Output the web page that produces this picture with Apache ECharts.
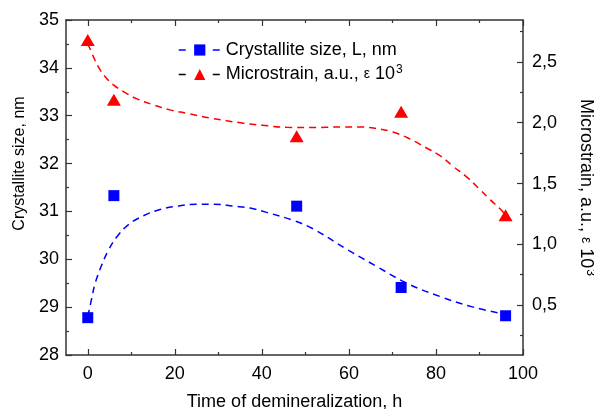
<!DOCTYPE html>
<html>
<head>
<meta charset="utf-8">
<script src="https://cdn.jsdelivr.net/npm/echarts@6/dist/echarts.min.js"></script>
<style>html,body{margin:0;padding:0;background:#fff;}#c{width:594px;height:409px;}</style>
</head>
<body>
<div id="c"></div>
<script>
// ---- data ----
const timeH = [0, 6, 48, 72, 96];
const crystalliteSize = [28.78, 31.33, 31.11, 29.41, 28.82];
const microstrain = [2.68, 2.19, 1.89, 2.09, 1.24];

const sizeFitX = [0, 0.9, 1.7, 3.2, 4.75, 6.7, 9.3, 12.8, 16.6, 20.5, 25.1, 28.9, 33.5, 37.3, 41.1, 47.3, 51.9, 59.5, 66.4, 73.3, 81.0, 88.6, 96];
const sizeFitY = [28.8, 29.18, 29.5, 29.88, 30.19, 30.47, 30.72, 30.91, 31.04, 31.11, 31.15, 31.15, 31.11, 31.07, 30.98, 30.81, 30.63, 30.21, 29.85, 29.50, 29.22, 29.0, 28.85];

const strainFitX = [0, 1.3, 2.4, 4.0, 5.9, 8.2, 11.3, 15.1, 18.9, 22.8, 28, 35.8, 40, 45.7, 51.1, 54.9, 58.8, 62.6, 66.4, 70.3, 74.1, 77.5, 81.0, 84.0, 87.1, 89.8, 92.5, 94.8, 96];
const strainFitY = [2.65, 2.544, 2.461, 2.379, 2.311, 2.256, 2.196, 2.147, 2.106, 2.078, 2.04, 1.996, 1.98, 1.962, 1.960, 1.963, 1.966, 1.966, 1.952, 1.922, 1.865, 1.799, 1.728, 1.640, 1.553, 1.462, 1.366, 1.290, 1.24];

const xMajorTicks = [0, 20, 40, 60, 80, 100];
const xMinorTicks = [10, 30, 50, 70, 90];
const rightMajorTicks = [0.5, 1.0, 1.5, 2.0, 2.5];
const rightMinorTicks = [0.25, 0.75, 1.25, 1.75, 2.25, 2.75];

const nameSize = 'Crystallite size, L, nm';
const nameStrain = 'Microstrain, a.u., \u03b5 10^3';
const leftTitle = 'Crystallite size, nm';
const bottomTitle = 'Time of demineralization, h';

// ---- chart ----
const FONT = '"Liberation Sans", Arial, sans-serif';
const AX = '#333';
const pairs = (xs, ys) => xs.map((x, i) => [x, ys[i]]);
const richText = {
  t: {fontSize: 18, fontFamily: FONT, color: '#000'},
  e: {fontSize: 14, fontFamily: FONT, color: '#000'},
  s: {fontSize: 12, fontFamily: FONT, color: '#000', padding: [0, 0, 9, 1]}
};
const strainRich = '{t|Microstrain, a.u., }{e|\u03b5}{t| 10}{s|3}';

const X0 = -5, X1 = 100, R0 = 0.09, R1 = 2.845;
const baseX = {type: 'value', min: X0, max: X1, splitLine: {show: false}, axisLine: {show: false, onZero: false}, axisLabel: {show: false}, axisTick: {show: false}};
const baseR = {type: 'value', min: R0, max: R1, position: 'right', splitLine: {show: false}, axisLine: {show: false, onZero: false}, axisLabel: {show: false}, axisTick: {show: false}};

const option = {
  animation: false,
  backgroundColor: '#fff',
  textStyle: {fontFamily: FONT},
  grid: {left: 66, right: 71, top: 20, bottom: 54, containLabel: false, outerBoundsMode: 'none'},
  legend: {
    orient: 'vertical', left: 173, top: 36,
    itemWidth: 42, itemHeight: 14, itemGap: 5,
    data: [
      {name: nameSize, itemStyle: {color: '#0000ff'}, lineStyle: {color: '#0000ff', type: [7, 27], width: 1.5}},
      {name: nameStrain, itemStyle: {color: '#ff0000'}, lineStyle: {color: '#000', type: [7, 27], width: 1.5}}
    ],
    formatter: n => n === nameStrain ? strainRich : '{t|' + n + '}',
    textStyle: {rich: richText, fontSize: 18}
  },
  xAxis: [
    Object.assign({}, baseX, {
      position: 'bottom',
      axisLine: {show: true, onZero: false, lineStyle: {color: AX, width: 1.5}},
      axisTick: {show: true, inside: true, length: 6, customValues: xMajorTicks, lineStyle: {color: AX, width: 1.2}},
      axisLabel: {show: true, customValues: xMajorTicks, fontSize: 18, color: '#000', margin: 10, fontFamily: FONT},
      name: bottomTitle, nameLocation: 'middle', nameGap: 38,
      nameTextStyle: {fontSize: 18, color: '#000', fontFamily: FONT}
    }),
    Object.assign({}, baseX, {
      position: 'bottom',
      axisTick: {show: true, inside: true, length: 3, customValues: xMinorTicks, lineStyle: {color: AX, width: 1.2}}
    }),
    Object.assign({}, baseX, {
      position: 'top',
      axisLine: {show: true, onZero: false, lineStyle: {color: AX, width: 1.5}},
      axisTick: {show: true, inside: true, length: 6, customValues: xMajorTicks, lineStyle: {color: AX, width: 1.2}}
    }),
    Object.assign({}, baseX, {
      position: 'top',
      axisTick: {show: true, inside: true, length: 3, customValues: xMinorTicks, lineStyle: {color: AX, width: 1.2}}
    })
  ],
  yAxis: [
    {
      type: 'value', min: 28, max: 35, interval: 1, position: 'left',
      splitLine: {show: false},
      axisLine: {show: true, onZero: false, lineStyle: {color: AX, width: 1.5}},
      axisTick: {show: true, inside: true, length: 6, lineStyle: {color: AX, width: 1.2}},
      minorTick: {show: true, splitNumber: 2, length: 3, lineStyle: {color: AX, width: 1.2}},
      axisLabel: {fontSize: 18, color: '#000', margin: 7, fontFamily: FONT},
      name: leftTitle, nameLocation: 'middle', nameGap: 37,
      nameTextStyle: {fontSize: 16, color: '#000', fontFamily: FONT, padding: [0, 0, 0, 48]}
    },
    Object.assign({}, baseR, {
      axisLine: {show: true, onZero: false, lineStyle: {color: AX, width: 1.5}},
      axisTick: {show: true, inside: true, length: 6, customValues: rightMajorTicks, lineStyle: {color: AX, width: 1.2}},
      axisLabel: {show: true, customValues: rightMajorTicks, fontSize: 18, color: '#000', margin: 9, fontFamily: FONT,
        formatter: v => v.toFixed(1).replace('.', ',')},
      name: strainRich, nameLocation: 'middle', nameGap: 52, nameRotate: -90,
      nameTextStyle: {rich: richText, fontSize: 18}
    }),
    Object.assign({}, baseR, {
      axisTick: {show: true, inside: true, length: 3, customValues: rightMinorTicks, lineStyle: {color: AX, width: 1.2}}
    })
  ],
  series: [
    {
      name: nameSize, type: 'line', xAxisIndex: 0, yAxisIndex: 0,
      data: pairs(sizeFitX, sizeFitY), smooth: 0.4, symbol: 'rect', showSymbol: false,
      itemStyle: {color: '#0000ff'},
      lineStyle: {color: '#0000ff', width: 1.5, type: [7, 5]}, z: 2
    },
    {
      name: nameStrain, type: 'line', xAxisIndex: 0, yAxisIndex: 1,
      data: pairs(strainFitX, strainFitY), smooth: 0.4, symbol: 'triangle', showSymbol: false,
      itemStyle: {color: '#ff0000'},
      lineStyle: {color: '#ff0000', width: 1.5, type: [7, 5]}, z: 2
    },
    {
      name: 'sizePoints', type: 'scatter', xAxisIndex: 0, yAxisIndex: 0,
      data: pairs(timeH, crystalliteSize), symbol: 'rect', symbolSize: 11,
      itemStyle: {color: '#0000ff', opacity: 1}, z: 3
    },
    {
      name: 'strainPoints', type: 'scatter', xAxisIndex: 0, yAxisIndex: 1,
      data: pairs(timeH, microstrain), symbol: 'triangle', symbolSize: [14, 12],
      itemStyle: {color: '#ff0000', opacity: 1}, z: 3
    }
  ]
};
const chart = echarts.init(document.getElementById('c'), null, {renderer: 'canvas'});
chart.setOption(option);
</script>
</body>
</html>
